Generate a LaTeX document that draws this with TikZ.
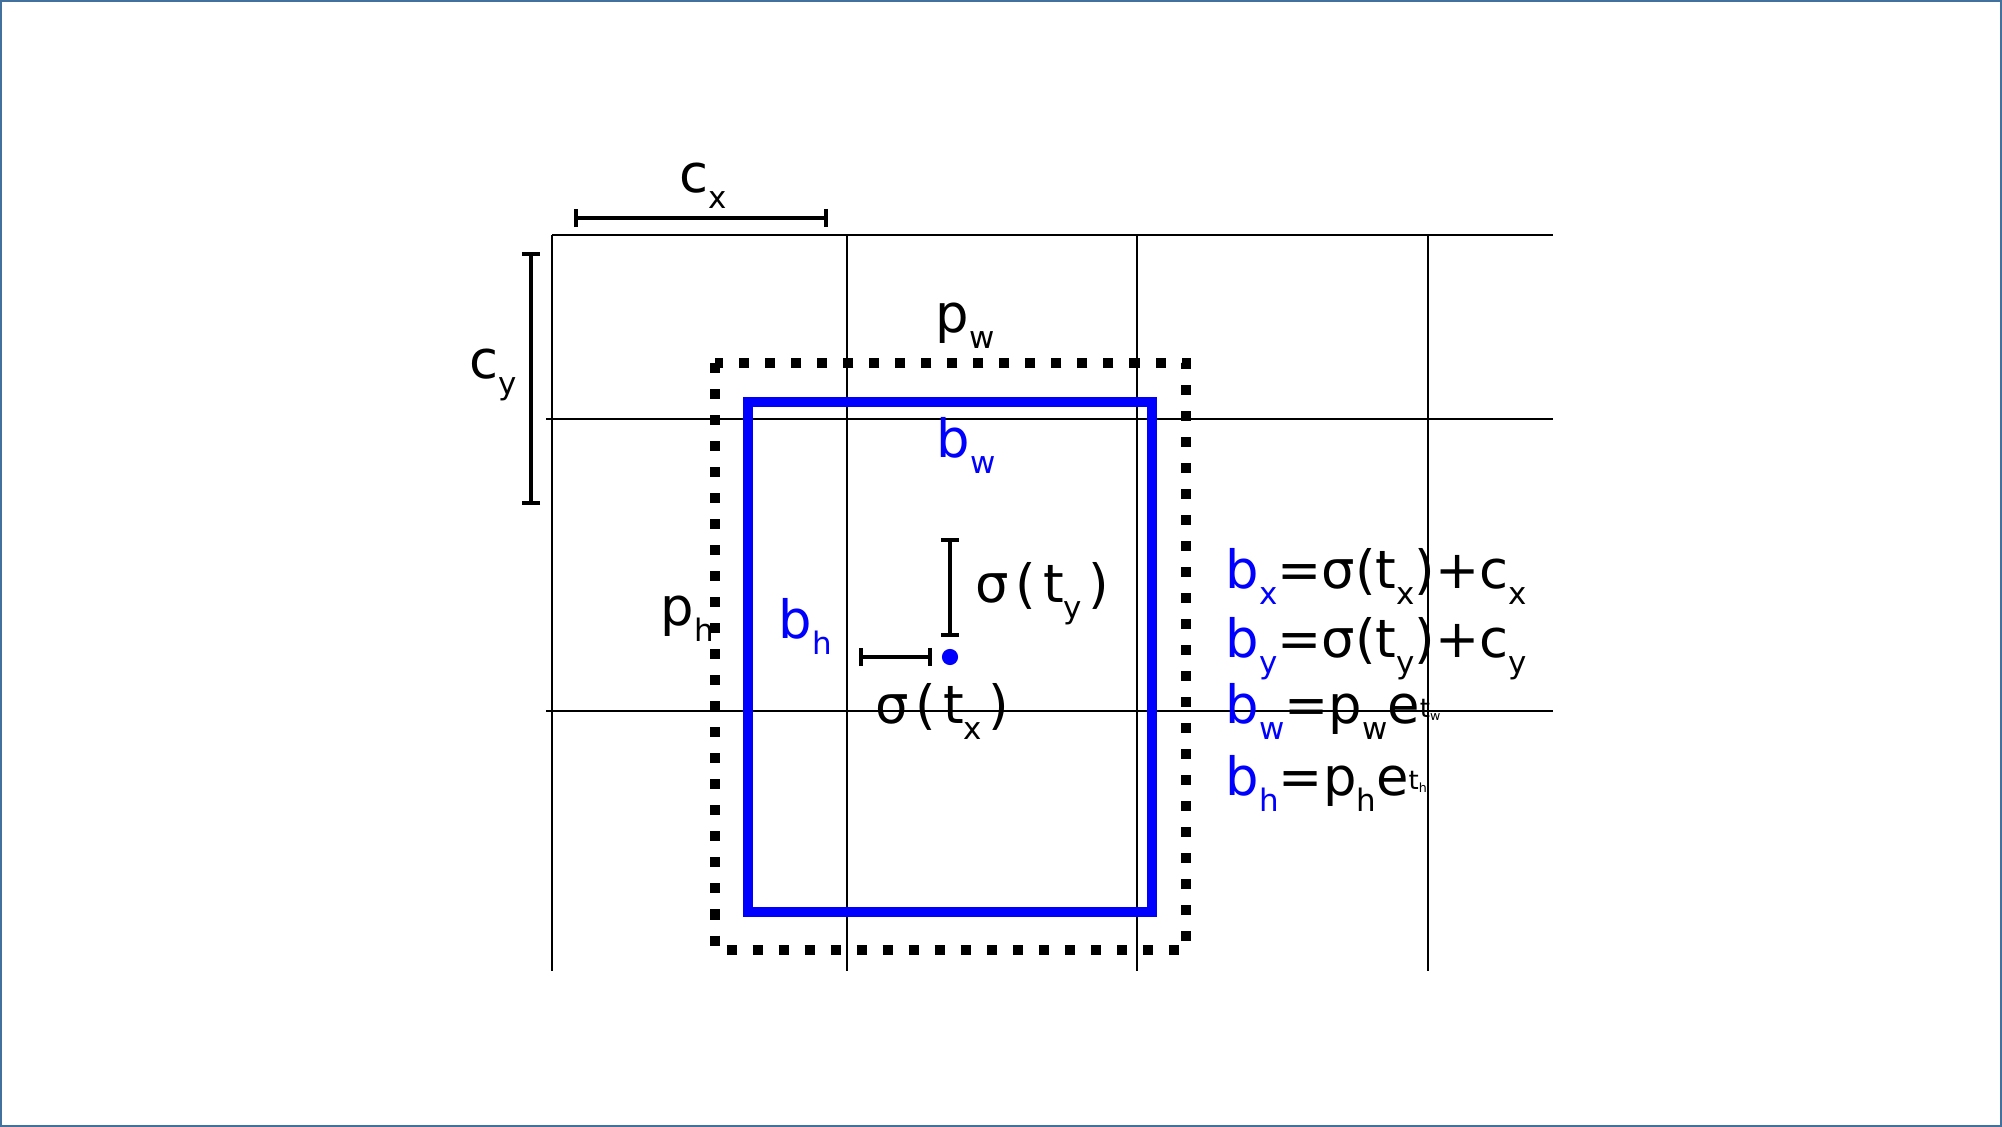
\documentclass[tikz,border=0pt]{standalone}
\usepackage{fontspec}
\setmainfont{DejaVu Sans}
\usetikzlibrary{arrows.meta}

\definecolor{framecol}{RGB}{65,113,156}

% subscript and small exponent
\newcommand{\lo}[1]{\raisebox{-4.8pt}{\fontsize{8.8}{9}\selectfont #1}}
\newcommand{\ex}[1]{\raisebox{1.7pt}{\fontsize{7.4}{8}\selectfont t\raisebox{-1pt}{\fontsize{3.6}{4}\selectfont #1}}}
\newcommand{\gap}{\hspace{1.9pt}}

\tikzset{
  gridline/.style={line width=0.45pt},
  dimbar/.style={line width=1.1pt, {Bar[width=5.2pt]}-{Bar[width=5.2pt]}},
  lbl/.style={anchor=base west, inner sep=0pt, font=\fontsize{15}{18}\selectfont},
  dotnode/.style={circle, fill=blue, inner sep=0pt, minimum size=4.6pt},
}

\begin{document}
\begin{tikzpicture}[x=0.01cm, y=-0.01cm]

% --- DEFINITIONS ---
\def\dotW{2.85pt}   % size of one dot of the prior box
\def\boxW{2.9pt}    % line of the predicted box

\useasboundingbox (0,0) rectangle (2002,1127);
\draw[framecol, line width=0.57pt] (1,1) rectangle (2001,1126);

% --- 1. GRID CELLS ---
\foreach \x in {552,847,1137,1428}
    \draw[gridline] (\x,235) -- (\x,971);
\draw[gridline] (552,235) -- (1553,235);
\foreach \y in {419,711}
    \draw[gridline] (546,\y) -- (1553,\y);

% --- 2. CELL OFFSETS ---
\draw[dimbar] (574,218) -- (828,218);
\draw[dimbar] (531,252) -- (531,505);
\node[lbl] (cx) at (679,192) {c\lo{x}};
\node[lbl] (cy) at (469,378) {c\lo{y}};

% --- 3. PRIOR (dotted) AND PREDICTED (blue) BOXES ---
\draw[line width=\dotW, dash pattern=on 2.85pt off 4.55pt] (715,363) rectangle (1186,950);
\draw[blue, line width=\boxW] (748,402) rectangle (1152,912);

\node[lbl] (pw) at (935,332) {p\lo{w}};
\node[lbl, blue] (bw) at (936,457) {b\lo{w}};
\node[lbl] (ph) at (660,625) {p\lo{h}};
\node[lbl, blue] (bh) at (778,638) {b\lo{h}};

% --- 4. CENTRE OFFSETS ---
\node[dotnode] (ctr) at (950,657) {};
\draw[dimbar] (950,538) -- (950,637);
\draw[dimbar] (859,657) -- (932,657);
\node[lbl] (sy) at (975,602) {σ\gap(\gap t\lo{y}\gap)};
\node[lbl] (sx) at (875,723) {σ\gap(\gap t\lo{x}\gap)};

% --- 5. FORMULAS ---
\node[lbl] (fx) at (1225,588) {\textcolor{blue}{b\lo{x}}=σ(t\lo{x})+c\lo{x}};
\node[lbl] (fy) at (1225,657) {\textcolor{blue}{b\lo{y}}=σ(t\lo{y})+c\lo{y}};
\node[lbl] (fw) at (1225,723) {\textcolor{blue}{b\lo{w}}=p\lo{w}e\ex{w}};
\node[lbl] (fh) at (1225,795) {\textcolor{blue}{b\lo{h}}=p\lo{h}e\ex{h}};

\end{tikzpicture}
\end{document}
